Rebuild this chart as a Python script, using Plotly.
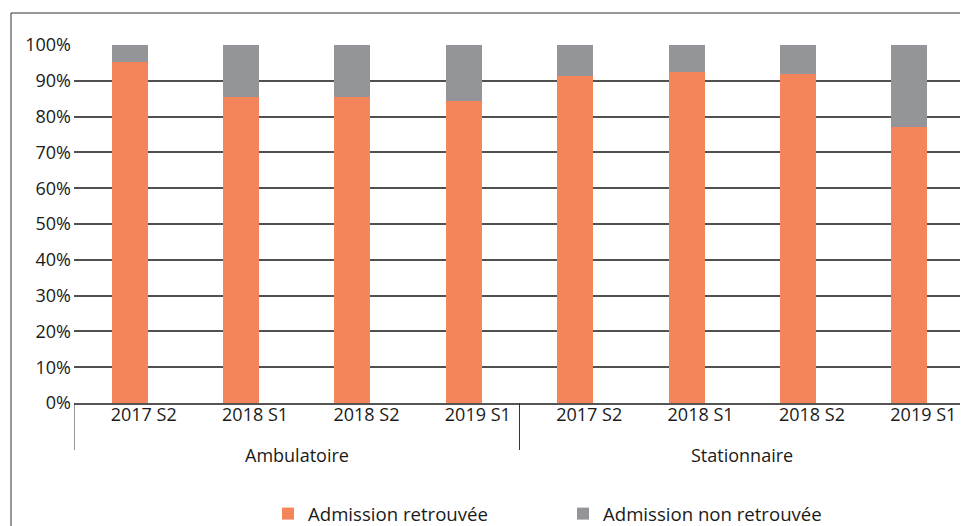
import plotly.graph_objects as go

group_names = ["Ambulatoire", "Stationnaire"]
periods = ["2017 S2", "2018 S1", "2018 S2", "2019 S1"]
categories = [f"{g} {p}" for g in group_names for p in periods]
tick_labels = periods * len(group_names)
retrouvee = [95.2, 85.4, 85.4, 84.3, 91.3, 92.4, 91.9, 77.0]
non_retrouvee = [4.8, 14.6, 14.6, 15.7, 8.7, 7.6, 8.1, 23.0]
y_ticks = [0, 10, 20, 30, 40, 50, 60, 70, 80, 90, 100]
y_labels = [f"{v}%" for v in y_ticks]

FONT = "Open Sans"
OFF = 8  # page body margin
W, H = 968 - OFF, 526 - OFF
L, R, T, B = 66, 3, 37, 123
pw, ph = W - L - R, H - T - B

def px_x(p):  # page x -> paper
    return (p - OFF - L) / pw

def px_y(p):  # page y -> paper
    return (H - B - (p - OFF)) / ph

def cy(p):  # page y -> container
    return 1 - (p - OFF) / H

def cx(p):  # page x -> container
    return (p - OFF) / W

xs = list(range(len(categories)))
n = len(periods)

fig = go.Figure()
fig.add_trace(go.Bar(x=xs, y=retrouvee, name="Admission retrouvée",
                     customdata=categories,
                     marker=dict(color="#F4845A", line=dict(width=0))))
fig.add_trace(go.Bar(x=xs, y=non_retrouvee, name="Admission non retrouvée",
                     customdata=categories,
                     marker=dict(color="#949599", line=dict(width=0))))

shapes = [dict(type="rect", xref="paper", yref="paper",
               x0=px_x(11), x1=1.2, y0=-1, y1=px_y(13),
               line=dict(color="#333333", width=1), fillcolor="rgba(0,0,0,0)",
               layer="below")]
for gi in range(len(group_names) + 1):
    xv = gi * n - 0.5
    shapes.append(dict(type="line", xref="x", yref="paper", x0=xv, x1=xv,
                       y0=0, y1=px_y(450), line=dict(color="#333333", width=1)))

annotations = [dict(text="<b>prise en charge</b>", xref="paper", yref="paper",
                    x=px_x(-1), xanchor="left", y=px_y(8),
                    yanchor="bottom", showarrow=False,
                    font=dict(size=20, color="#1a1a1a"))]
for gi, g in enumerate(group_names):
    annotations.append(dict(text=g, xref="x", yref="paper",
                            x=gi * n + (n - 1) / 2, y=px_y(455), yanchor="middle",
                            showarrow=False, font=dict(size=18, color="#1a1a1a")))

fig.update_layout(
    width=W, height=H,
    margin=dict(l=L, r=R, t=T, b=B),
    barmode="stack",
    bargap=0.677,
    plot_bgcolor="white",
    paper_bgcolor="white",
    font=dict(family=FONT, size=18, color="#1a1a1a"),
    showlegend=True,
    legend=dict(orientation="h", xref="container", yref="container",
                x=cx(563), xanchor="center",
                y=cy(495), yanchor="top",
                font=dict(size=18.6), traceorder="normal",
                entrywidth=250, entrywidthmode="pixels"),
    xaxis=dict(range=[-0.5, len(xs) - 0.5], tickvals=xs, ticktext=tick_labels,
               showgrid=False, zeroline=False, showline=True,
               linecolor="#555555", linewidth=1.5, ticks="",
               tickfont=dict(size=18), ticklabelshift=14, ticklabelstandoff=-5),
    yaxis=dict(range=[0, 100], tickvals=y_ticks, ticktext=y_labels,
               showgrid=True, gridcolor="#505050", gridwidth=1.5,
               zeroline=False, showline=False, ticks="",
               tickfont=dict(size=18), ticklabelstandoff=2),
    shapes=shapes,
    annotations=annotations,
)

fig.write_html("out.html")
